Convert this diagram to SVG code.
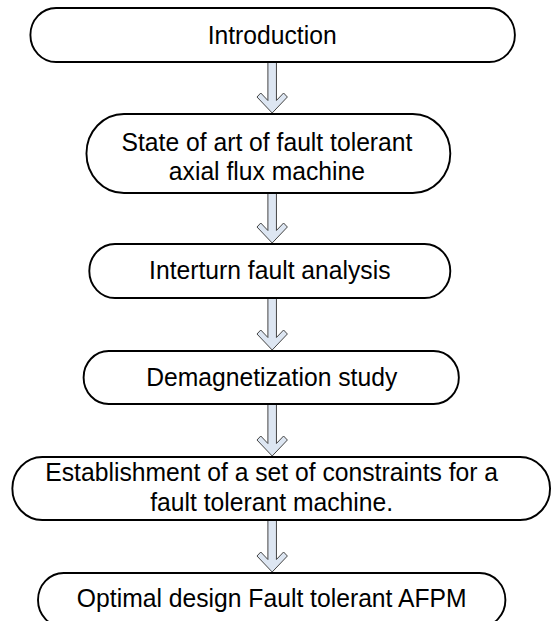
<svg xmlns="http://www.w3.org/2000/svg" width="552" height="621" viewBox="0 0 552 621">
<style>
.box{fill:#ffffff;stroke:#000000;stroke-width:2}
.lbl{font-family:"Liberation Sans",Arial,sans-serif;font-size:26px;fill:#000000;text-anchor:middle}
.arr{fill:#dde6f2;stroke:#404040;stroke-width:1;stroke-linejoin:miter}
</style>
<rect width="552" height="621" fill="#ffffff"/>
<g transform="scale(0.95,1)">
<g id="connectors">
<polygon class="arr" points="282,62 291,62 291,100.5 298.5,93 302.5,97 286.5,113 270.5,97 274.5,93 282,100.5"/>
<polygon class="arr" points="282,193 291,193 291,230.5 298.5,223 302.5,227 286.5,243 270.5,227 274.5,223 282,230.5"/>
<polygon class="arr" points="282,298 291,298 291,337.5 298.5,330 302.5,334 286.5,350 270.5,334 274.5,330 282,337.5"/>
<polygon class="arr" points="282,404 291,404 291,443.5 298.5,436 302.5,440 286.5,456 270.5,440 274.5,436 282,443.5"/>
<polygon class="arr" points="282,520 291,520 291,559.5 298.5,552 302.5,556 286.5,572 270.5,556 274.5,552 282,559.5"/>
</g>
<g id="n1"><rect class="box" x="32" y="8" width="510" height="54" rx="27"/><text class="lbl" x="286.5" y="44">Introduction</text></g>
<g id="n2"><rect class="box" x="91" y="114" width="383" height="79" rx="39.5"/><text class="lbl" x="281" y="151">State of art of fault tolerant</text><text class="lbl" x="281" y="180">axial flux machine</text></g>
<g id="n3"><rect class="box" x="94" y="244" width="380" height="54" rx="27"/><text class="lbl" x="284" y="279">Interturn fault analysis</text></g>
<g id="n4"><rect class="box" x="88" y="351" width="395" height="53" rx="26.5"/><text class="lbl" x="286" y="386">Demagnetization study</text></g>
<g id="n5"><rect class="box" x="13" y="457" width="566" height="63" rx="31.5"/><text class="lbl" x="286" y="481">Establishment of a set of constraints for a</text><text class="lbl" x="286" y="511">fault tolerant machine.</text></g>
<g id="n6"><rect class="box" x="40" y="573" width="492" height="54" rx="27"/><text class="lbl" x="286" y="607">Optimal design Fault tolerant AFPM</text></g>
</g>
</svg>
